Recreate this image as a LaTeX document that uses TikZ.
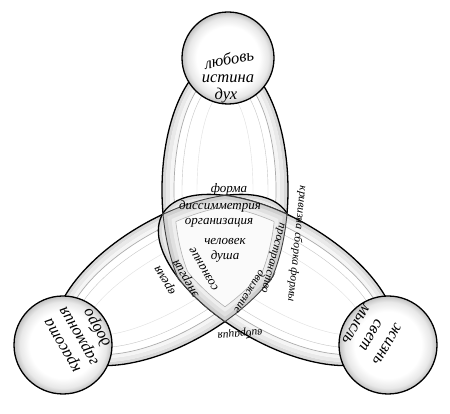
\documentclass[tikz,border=0pt]{standalone}
\usepackage{fontspec}
\setmainfont{Liberation Serif}[ItalicFont={Liberation Serif Italic}]
\pgfdeclareradialshading{rimshade}{\pgfpoint{0bp}{0bp}}{color(0bp)=(white); color(17bp)=(white); color(22bp)=(gray!18); color(24.6bp)=(gray!45); color(25bp)=(gray!45); color(50bp)=(gray!45)}
\begin{document}
\begin{tikzpicture}[x=1pt,y=1pt,
  ring/.style={circle, draw=black, line width=1.3pt, inner sep=0pt, shade, shading=rimshade},
  big/.style={font=\fontsize{16.5}{18}\selectfont\itshape, inner sep=0pt},
  sml/.style={font=\fontsize{13}{15}\selectfont\itshape, inner sep=0pt},
  tiny/.style={font=\fontsize{11.5}{13}\selectfont\itshape, inner sep=0pt},
  lobeline/.style={black, line width=1.3pt},
]
\useasboundingbox (0,0) rectangle (450,414);
\coordinate (C) at (225,164);

% three lobes (top under lower-left under lower-right)
\foreach \a in {90,210,330}{
  \begin{scope}[shift={(225,164)},rotate=\a]
    \fill[white] (60,0) ellipse [x radius=132,y radius=63];
    \fill[gray!30,even odd rule] (60,0) ellipse [x radius=132,y radius=63] (60,0) ellipse [x radius=128,y radius=59];
    \fill[gray!17,even odd rule] (60,0) ellipse [x radius=128,y radius=59] (60,0) ellipse [x radius=124,y radius=55];
    \fill[gray!8,even odd rule] (60,0) ellipse [x radius=124,y radius=55] (60,0) ellipse [x radius=120,y radius=51];
    \draw[gray!65,line width=0.7pt] (60,0) ellipse [x radius=120,y radius=51];
    \draw[gray!45,line width=0.4pt] (60,0) ellipse [x radius=112,y radius=43];
    \draw[gray!25,line width=0.4pt] (60,0) ellipse [x radius=98,y radius=28];
    \draw[lobeline] (60,0) ellipse [x radius=132,y radius=63];
  \end{scope}
}

% central curved triangle (intersection of the three lobes)
\foreach \r/\c in {0/38,4/24,8/13,12/4}{
  \begin{scope}
    \clip[shift={(225,164)},rotate=90] (60,0) ellipse [x radius={132-\r},y radius={63-\r}];
    \clip[shift={(225,164)},rotate=210] (60,0) ellipse [x radius={132-\r},y radius={63-\r}];
    \fill[gray!\c,shift={(225,164)},rotate=330] (60,0) ellipse [x radius={132-\r},y radius={63-\r}];
  \end{scope}
}
\foreach \a/\b/\cc in {90/210/330,210/330/90,330/90/210}{
  \begin{scope}
    \clip[shift={(225,164)},rotate=\b] (60,0) ellipse [x radius=133,y radius=64];
    \clip[shift={(225,164)},rotate=\cc] (60,0) ellipse [x radius=133,y radius=64];
    \draw[black!75,line width=0.9pt,shift={(225,164)},rotate=\a] (60,0) ellipse [x radius=132,y radius=63];
  \end{scope}
  \begin{scope}
    \clip[shift={(225,164)},rotate=\b] (60,0) ellipse [x radius=120,y radius=51];
    \clip[shift={(225,164)},rotate=\cc] (60,0) ellipse [x radius=120,y radius=51];
    \draw[gray!60,line width=0.6pt,shift={(225,164)},rotate=\a] (60,0) ellipse [x radius=120,y radius=51];
  \end{scope}
}

% circles
\node[ring, minimum size=92pt] (ctop) at (228,356) {};
\node[ring, minimum size=98pt] (cbl) at (63,69) {};
\node[ring, minimum size=98pt] (cbr) at (388,69) {};

% circle texts
\begin{scope}[shift={(228,356)}]
  \node[big, rotate=10] (t1) at (1,-1) {любовь};
  \node[big] (t2) at (0,-21) {истина};
  \node[big] (t3) at (-2,-38) {дух};
\end{scope}
\begin{scope}[shift={(63,69)},rotate=120,transform shape]
  \node[big] (l1) at (0,-1) {красота};
  \node[big] (l2) at (0,-20) {гармония};
  \node[big] (l3) at (-2,-38) {добро};
\end{scope}
\begin{scope}[shift={(388,69)},rotate=-120,transform shape]
  \node[big] (r1) at (0,-1) {жизнь};
  \node[big] (r2) at (0,-20) {свет};
  \node[big] (r3) at (-2,-38) {мысль};
\end{scope}

% central texts
\begin{scope}[shift={(225,164)}]
  \node[sml] (f1) at (4,61) {форма};
  \node[sml] (f2) at (-5,44) {диссимметрия};
  \node[sml] (f3) at (-6,27) {организация};
  \node[sml] (h1) at (0,8) {человек};
  \node[sml] (h2) at (0,-6) {душа};
\end{scope}
\begin{scope}[shift={(225,164)},rotate=120,transform shape]
  \node[sml] (e1) at (4,66) {время};
  \node[sml] (e2) at (-5,47) {энергия};
  \node[sml] (e3) at (-6,28) {сознание};
\end{scope}
\node[tiny, rotate=-96] (k1) at (297,170) {кривизна сборка формы};
\node[tiny, rotate=-105] (k2) at (272,156) {пространство};
\node[tiny, rotate=-122] (k3) at (250,122) {движение};
\node[tiny, rotate=185] (k4) at (240,80) {вибрация};
\end{tikzpicture}
\end{document}
